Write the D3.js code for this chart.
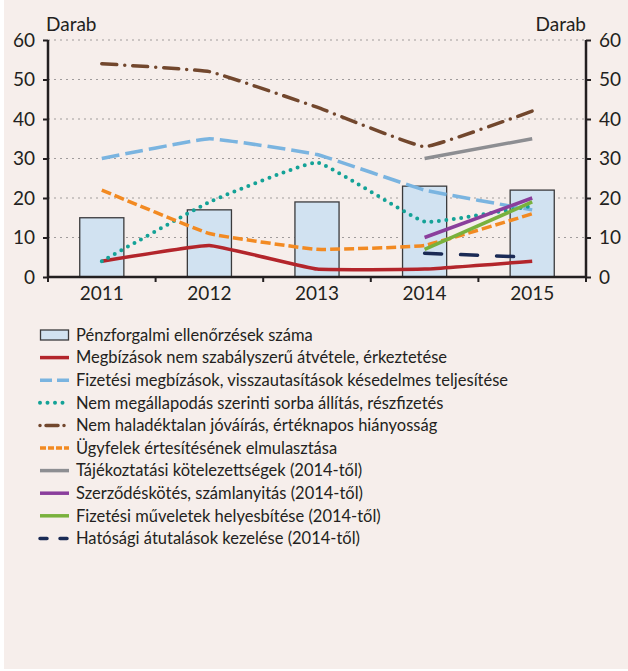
<!DOCTYPE html>
<html lang="hu">
<head>
<meta charset="utf-8">
<title>Pénzforgalmi ellenőrzések</title>
<script src="https://d3js.org/d3.v7.min.js"></script>
<style>
  body { margin: 0; background: #fff; }
  svg { display: block; font-family: Lato, "Open Sans", sans-serif; }
</style>
</head>
<body>
<svg id="chart" width="628" height="671"></svg>
<script>
// data
var years = ["2011", "2012", "2013", "2014", "2015"];
var yTicks = [0, 10, 20, 30, 40, 50, 60];
var checks = [15, 17, 19, 23, 22];            // bars
var receipt = [4, 8, 2, 2, 4];                 // red
var delayed = [30, 35, 31, 22, 17];            // light blue
var queueing = [4, 19, 29, 14, 18];            // teal dotted
var crediting = [54, 52, 43, 33, 42];          // brown dash-dot
var notifying = [22, 11, 7, 8, 16];            // orange
var info = [null, null, null, 30, 35];         // grey
var contract = [null, null, null, 10, 20];     // purple
var correction = [null, null, null, 7, 19];    // green
var authority = [null, null, null, 6, 5];      // navy

var barLabel = "Pénzforgalmi ellenőrzések száma";
var series = [
  { name: "Megbízások nem szabályszerű átvétele, érkeztetése", values: receipt, color: "#b3252b", dash: null },
  { name: "Fizetési megbízások, visszautasítások késedelmes teljesítése", values: delayed, color: "#7ab4e0", dash: "18,6", key: "12,5" },
  { name: "Nem megállapodás szerinti sorba állítás, részfizetés", values: queueing, color: "#14a297", dash: "0,7.5", cap: "round", width: 4 },
  { name: "Nem haladéktalan jóváírás, értéknapos hiányosság", values: crediting, color: "#72472d", dash: "15,8,0,8", cap: "round", key: "0,6,12,6" },
  { name: "Ügyfelek értesítésének elmulasztása", values: notifying, color: "#f28a22", dash: "10,4", key: "6,2" },
  { name: "Tájékoztatási kötelezettségek (2014-től)", values: info, color: "#8d8e92", dash: null },
  { name: "Szerződéskötés, számlanyitás (2014-től)", values: contract, color: "#8a3e9c", dash: null },
  { name: "Fizetési műveletek helyesbítése (2014-től)", values: correction, color: "#79b13d", dash: null },
  { name: "Hatósági átutalások kezelése (2014-től)", values: authority, color: "#1a2a55", dash: "17,19", cap: "round", key: "7,13" }
];

var svg = d3.select("#chart");
var W = 628, H = 671;
var mLeft = 48, mRight = 586, mTop = 40, mBottom = 277;
var axisFont = 19, legendFont = 16.5, ink = "#231f20";

svg.append("rect").attr("x", 4).attr("y", 0).attr("width", W - 4).attr("height", H - 2)
  .attr("fill", "#f6eeeb");

var x = d3.scaleBand().domain(years).range([mLeft, mRight]).padding(0);
var y = d3.scaleLinear().domain([0, 60]).range([mBottom, mTop]);

// grid
svg.append("g").selectAll("line")
  .data(yTicks.filter(function (d) { return d > 0; }))
  .enter().append("line")
  .attr("x1", mLeft).attr("x2", mRight)
  .attr("y1", function (d) { return y(d); }).attr("y2", function (d) { return y(d); })
  .attr("stroke", "#a09c9c").attr("stroke-width", 1.2).attr("stroke-dasharray", "2,4");

// bars
var bw = x.bandwidth() * 0.41;
svg.append("g").selectAll("rect")
  .data(checks)
  .enter().append("rect")
  .attr("x", function (d, i) { return x(years[i]) + x.bandwidth() / 2 - bw / 2; })
  .attr("y", function (d) { return y(d); })
  .attr("width", bw)
  .attr("height", function (d) { return y(0) - y(d); })
  .attr("fill", "#d1e2f1").attr("stroke", "#3a3a3c").attr("stroke-width", 1.3);

// lines
var line = d3.line()
  .defined(function (d) { return d != null; })
  .x(function (d, i) { return x(years[i]) + x.bandwidth() / 2; })
  .y(function (d) { return y(d); })
  .curve(d3.curveCardinal.tension(0.72));

series.forEach(function (s) {
  svg.append("path")
    .attr("d", line(s.values))
    .attr("fill", "none")
    .attr("stroke", s.color)
    .attr("stroke-width", s.width || 3.5)
    .attr("stroke-linecap", s.cap || "butt")
    .attr("stroke-dasharray", s.dash);
});

// axes
var yl = svg.append("g").attr("transform", "translate(" + mLeft + ",0)")
  .call(d3.axisLeft(y).tickValues(yTicks).tickSize(5).tickPadding(8));
var yr = svg.append("g").attr("transform", "translate(" + mRight + ",0)")
  .call(d3.axisRight(y).tickValues(yTicks).tickSize(5).tickPadding(8));
var xa = svg.append("g").attr("transform", "translate(0," + mBottom + ")")
  .call(d3.axisBottom(x).tickSize(0).tickPadding(10));
// x ticks at band edges
svg.append("g").selectAll("line")
  .data(years.concat(["end"]))
  .enter().append("line")
  .attr("x1", function (d, i) { return mLeft + i * x.bandwidth(); })
  .attr("x2", function (d, i) { return mLeft + i * x.bandwidth(); })
  .attr("y1", mBottom).attr("y2", mBottom + 5)
  .attr("stroke", ink).attr("stroke-width", 2);

[yl, yr, xa].forEach(function (g) {
  g.select(".domain").attr("stroke", ink).attr("stroke-width", 2.5);
  g.selectAll(".tick line").attr("stroke", ink).attr("stroke-width", 2);
  g.selectAll(".tick text").attr("fill", ink)
    .style("font-family", "Lato, sans-serif").style("font-size", axisFont + "px");
});
yl.select(".domain").attr("d", "M0," + mBottom + "V" + mTop);
yr.select(".domain").attr("d", "M0," + mBottom + "V" + mTop);
xa.select(".domain").attr("d", "M" + mLeft + ",0H" + mRight);

svg.append("text").attr("x", 46).attr("y", 31).text("Darab")
  .attr("font-size", axisFont).attr("fill", ink);
svg.append("text").attr("x", 586).attr("y", 31).attr("text-anchor", "end").text("Darab")
  .attr("font-size", axisFont).attr("fill", ink);

// legend
var lg = svg.append("g");
var rowH = 22.6, ly0 = 335;
lg.append("rect").attr("x", 40.5).attr("y", ly0 - 5).attr("width", 28).attr("height", 10)
  .attr("fill", "#d1e2f1").attr("stroke", "#3a3a3c").attr("stroke-width", 1.3);
lg.append("text").attr("x", 76).attr("y", ly0).attr("dy", "0.35em").attr("font-size", legendFont)
  .attr("fill", ink).text(barLabel);
series.forEach(function (s, i) {
  var yy = ly0 + (i + 1) * rowH;
  lg.append("line").attr("x1", 40).attr("x2", 69).attr("y1", yy).attr("y2", yy)
    .attr("stroke", s.color).attr("stroke-width", s.width || 3.5)
    .attr("stroke-linecap", s.cap || "butt")
    .attr("stroke-dasharray", s.key || s.dash);
  lg.append("text").attr("x", 76).attr("y", yy).attr("dy", "0.35em").attr("font-size", legendFont)
    .attr("fill", ink).text(s.name);
});
</script>
</body>
</html>
